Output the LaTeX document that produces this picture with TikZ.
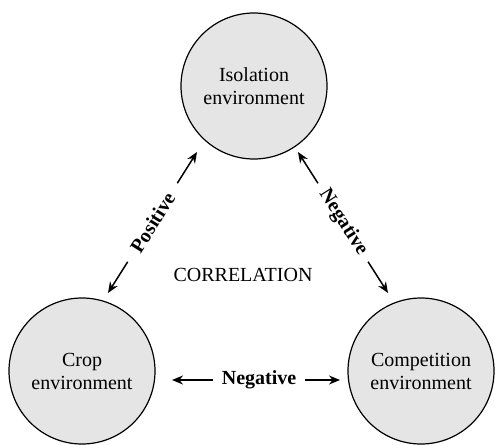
\documentclass[tikz,border=0pt]{standalone}
\usepackage{fontspec}
\setmainfont{Liberation Serif}
\usetikzlibrary{arrows.meta}
\begin{document}
\begin{tikzpicture}[x=0.5pt,y=-0.5pt,
  env/.style={circle,draw,line width=0.6pt,fill=gray!20,minimum size=73pt,inner sep=0pt,align=center,font=\fontsize{10}{11.5}\selectfont},
  rel/.style={line width=0.75pt,{Stealth[length=5.5pt,width=4.5pt]}-{Stealth[length=5.5pt,width=4.5pt]}},
  lab/.style={fill=white,font=\bfseries\fontsize{10}{12}\selectfont,inner ysep=1pt}]
\useasboundingbox (0,0) rectangle (496,444);
\node[env] (iso) at (254,86) {Isolation\\environment};
\node[env] (crop) at (82,371) {Crop\\environment};
\node[env] (comp) at (421,371) {Competition\\environment};
\node[font=\fontsize{10}{12}\selectfont] (corr) at (243,275) {CORRELATION};
\coordinate (pl) at (108,293);
\coordinate (pu) at (197,152);
\coordinate (nu) at (298,152);
\coordinate (nl) at (388,293);
\coordinate (hl) at (172,380);
\coordinate (hr) at (340,380);
\draw[rel] (pl) -- node[lab,sloped,inner xsep=6.5pt] (plab) {Positive} (pu);
\draw[rel] (nu) -- node[lab,sloped,inner xsep=4.6pt] (nlab) {Negative} (nl);
\draw[rel] (hl) -- node[lab,pos=0.518,inner xsep=4.5pt] (hlab) {Negative} (hr);
\end{tikzpicture}
\end{document}
